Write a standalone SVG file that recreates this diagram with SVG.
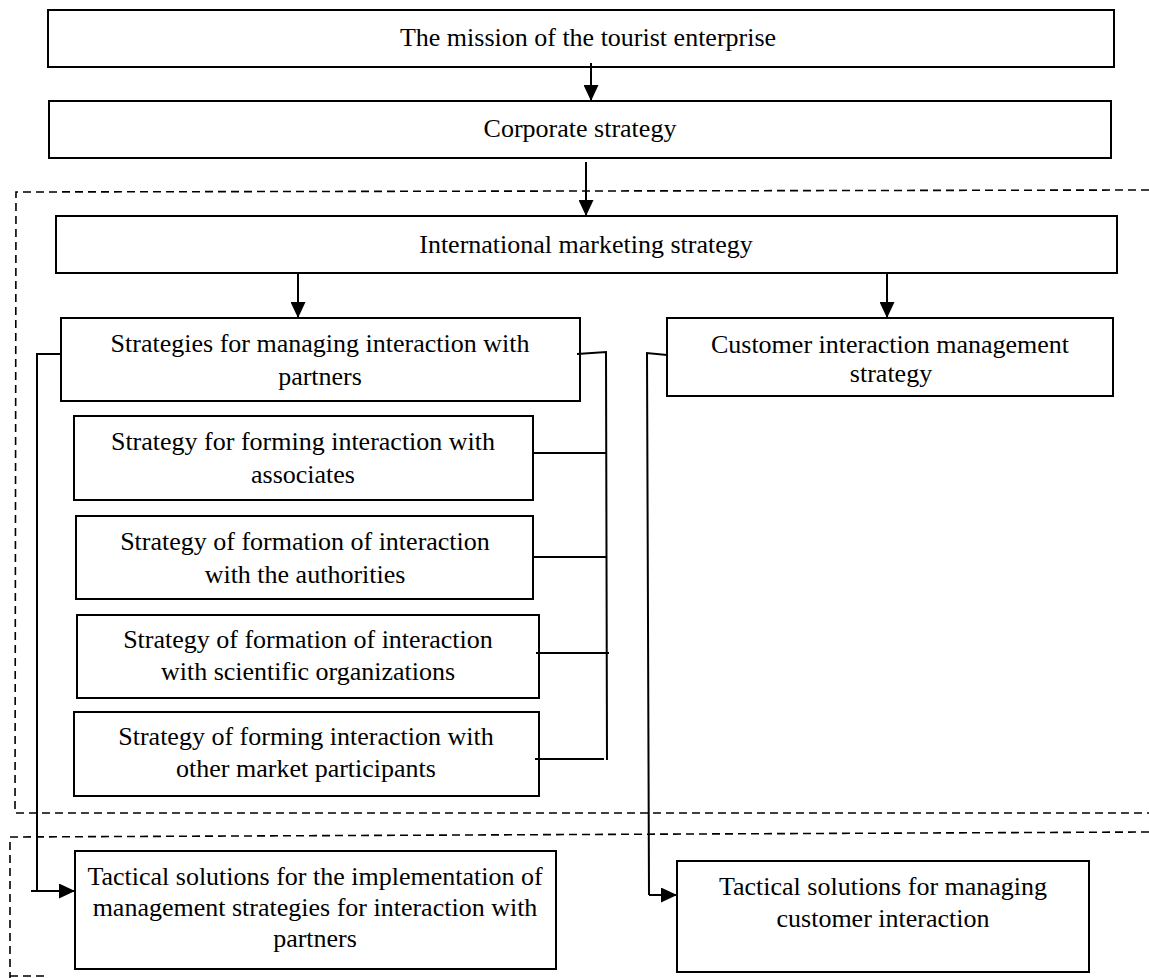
<svg xmlns="http://www.w3.org/2000/svg" width="1149" height="978" viewBox="0 0 1149 978">
<style>
.box{fill:#fff;stroke:#000;stroke-width:2}
.t{font-family:"Liberation Serif","Times New Roman",serif;font-size:26px;fill:#000;text-anchor:middle}
.ln{fill:none;stroke:#000;stroke-width:2}
.dash{fill:none;stroke:#000;stroke-width:1.6;stroke-dasharray:8 5}
</style>
<defs>
<marker id="ah" markerWidth="16" markerHeight="15" refX="16" refY="7.5" orient="auto" markerUnits="userSpaceOnUse">
<path d="M0,0 L16,7.5 L0,15 Z" fill="#000"/>
</marker>
</defs>
<rect width="1149" height="978" fill="#fff"/>
<g id="regions">
<path class="dash" d="M1149,190 L16,192 L15,813 L1149,813"/>
<path class="dash" d="M1149,832 L10,837 L10,978"/>
<path class="dash" d="M10,976 L48,976"/>
</g>
<g id="mission"><rect class="box" x="48" y="10" width="1066" height="57"/><text class="t" x="588" y="46">The mission of the tourist enterprise</text></g>
<g id="corporate"><rect class="box" x="49" y="101" width="1062" height="57"/><text class="t" x="580" y="137">Corporate strategy</text></g>
<g id="international"><rect class="box" x="56" y="216" width="1061" height="57"/><text class="t" x="586" y="253">International marketing strategy</text></g>
<g id="partners"><rect class="box" x="61" y="318" width="519" height="83"/><text class="t" x="320" y="352">Strategies for managing interaction with</text><text class="t" x="320" y="385">partners</text></g>
<g id="customer"><rect class="box" x="667" y="318" width="446" height="78"/><text class="t" x="890" y="353">Customer interaction management</text><text class="t" x="891" y="382">strategy</text></g>
<g id="associates"><rect class="box" x="74" y="416" width="459" height="84"/><text class="t" x="303" y="450">Strategy for forming interaction with</text><text class="t" x="303" y="483">associates</text></g>
<g id="authorities"><rect class="box" x="76" y="516" width="457" height="83"/><text class="t" x="305" y="550">Strategy of formation of interaction</text><text class="t" x="305" y="583">with the authorities</text></g>
<g id="scientific"><rect class="box" x="77" y="615" width="462" height="83"/><text class="t" x="308" y="648">Strategy of formation of interaction</text><text class="t" x="308" y="680">with scientific organizations</text></g>
<g id="others"><rect class="box" x="74" y="712" width="465" height="84"/><text class="t" x="306" y="745">Strategy of forming interaction with</text><text class="t" x="306" y="777">other market participants</text></g>
<g id="tactical-partners"><rect class="box" x="75" y="851" width="481" height="118"/><text class="t" x="315" y="885">Tactical solutions for the implementation of</text><text class="t" x="315" y="916">management strategies for interaction with</text><text class="t" x="315" y="947">partners</text></g>
<g id="tactical-customer"><rect class="box" x="677" y="861" width="412" height="111"/><text class="t" x="883" y="895">Tactical solutions for managing</text><text class="t" x="883" y="927">customer interaction</text></g>
<g id="connectors">
<line class="ln" x1="591" y1="63" x2="591" y2="101" marker-end="url(#ah)"/>
<line class="ln" x1="586" y1="162" x2="586" y2="216" marker-end="url(#ah)"/>
<line class="ln" x1="298" y1="272" x2="298" y2="318" marker-end="url(#ah)"/>
<line class="ln" x1="887" y1="272" x2="887" y2="318" marker-end="url(#ah)"/>
<path class="ln" d="M61,354 L37,354 L37,891"/>
<line class="ln" x1="31" y1="891" x2="75" y2="891" marker-end="url(#ah)"/>
<path class="ln" d="M577,354 L606,352 L607,760"/>
<line class="ln" x1="533" y1="453" x2="606" y2="453"/>
<line class="ln" x1="533" y1="557" x2="607" y2="557"/>
<line class="ln" x1="536" y1="653" x2="609" y2="653"/>
<line class="ln" x1="535" y1="759" x2="604" y2="759"/>
<path class="ln" d="M667,355 L647,353 L649,895"/>
<line class="ln" x1="649" y1="895" x2="677" y2="895" marker-end="url(#ah)"/>
</g>
</svg>
